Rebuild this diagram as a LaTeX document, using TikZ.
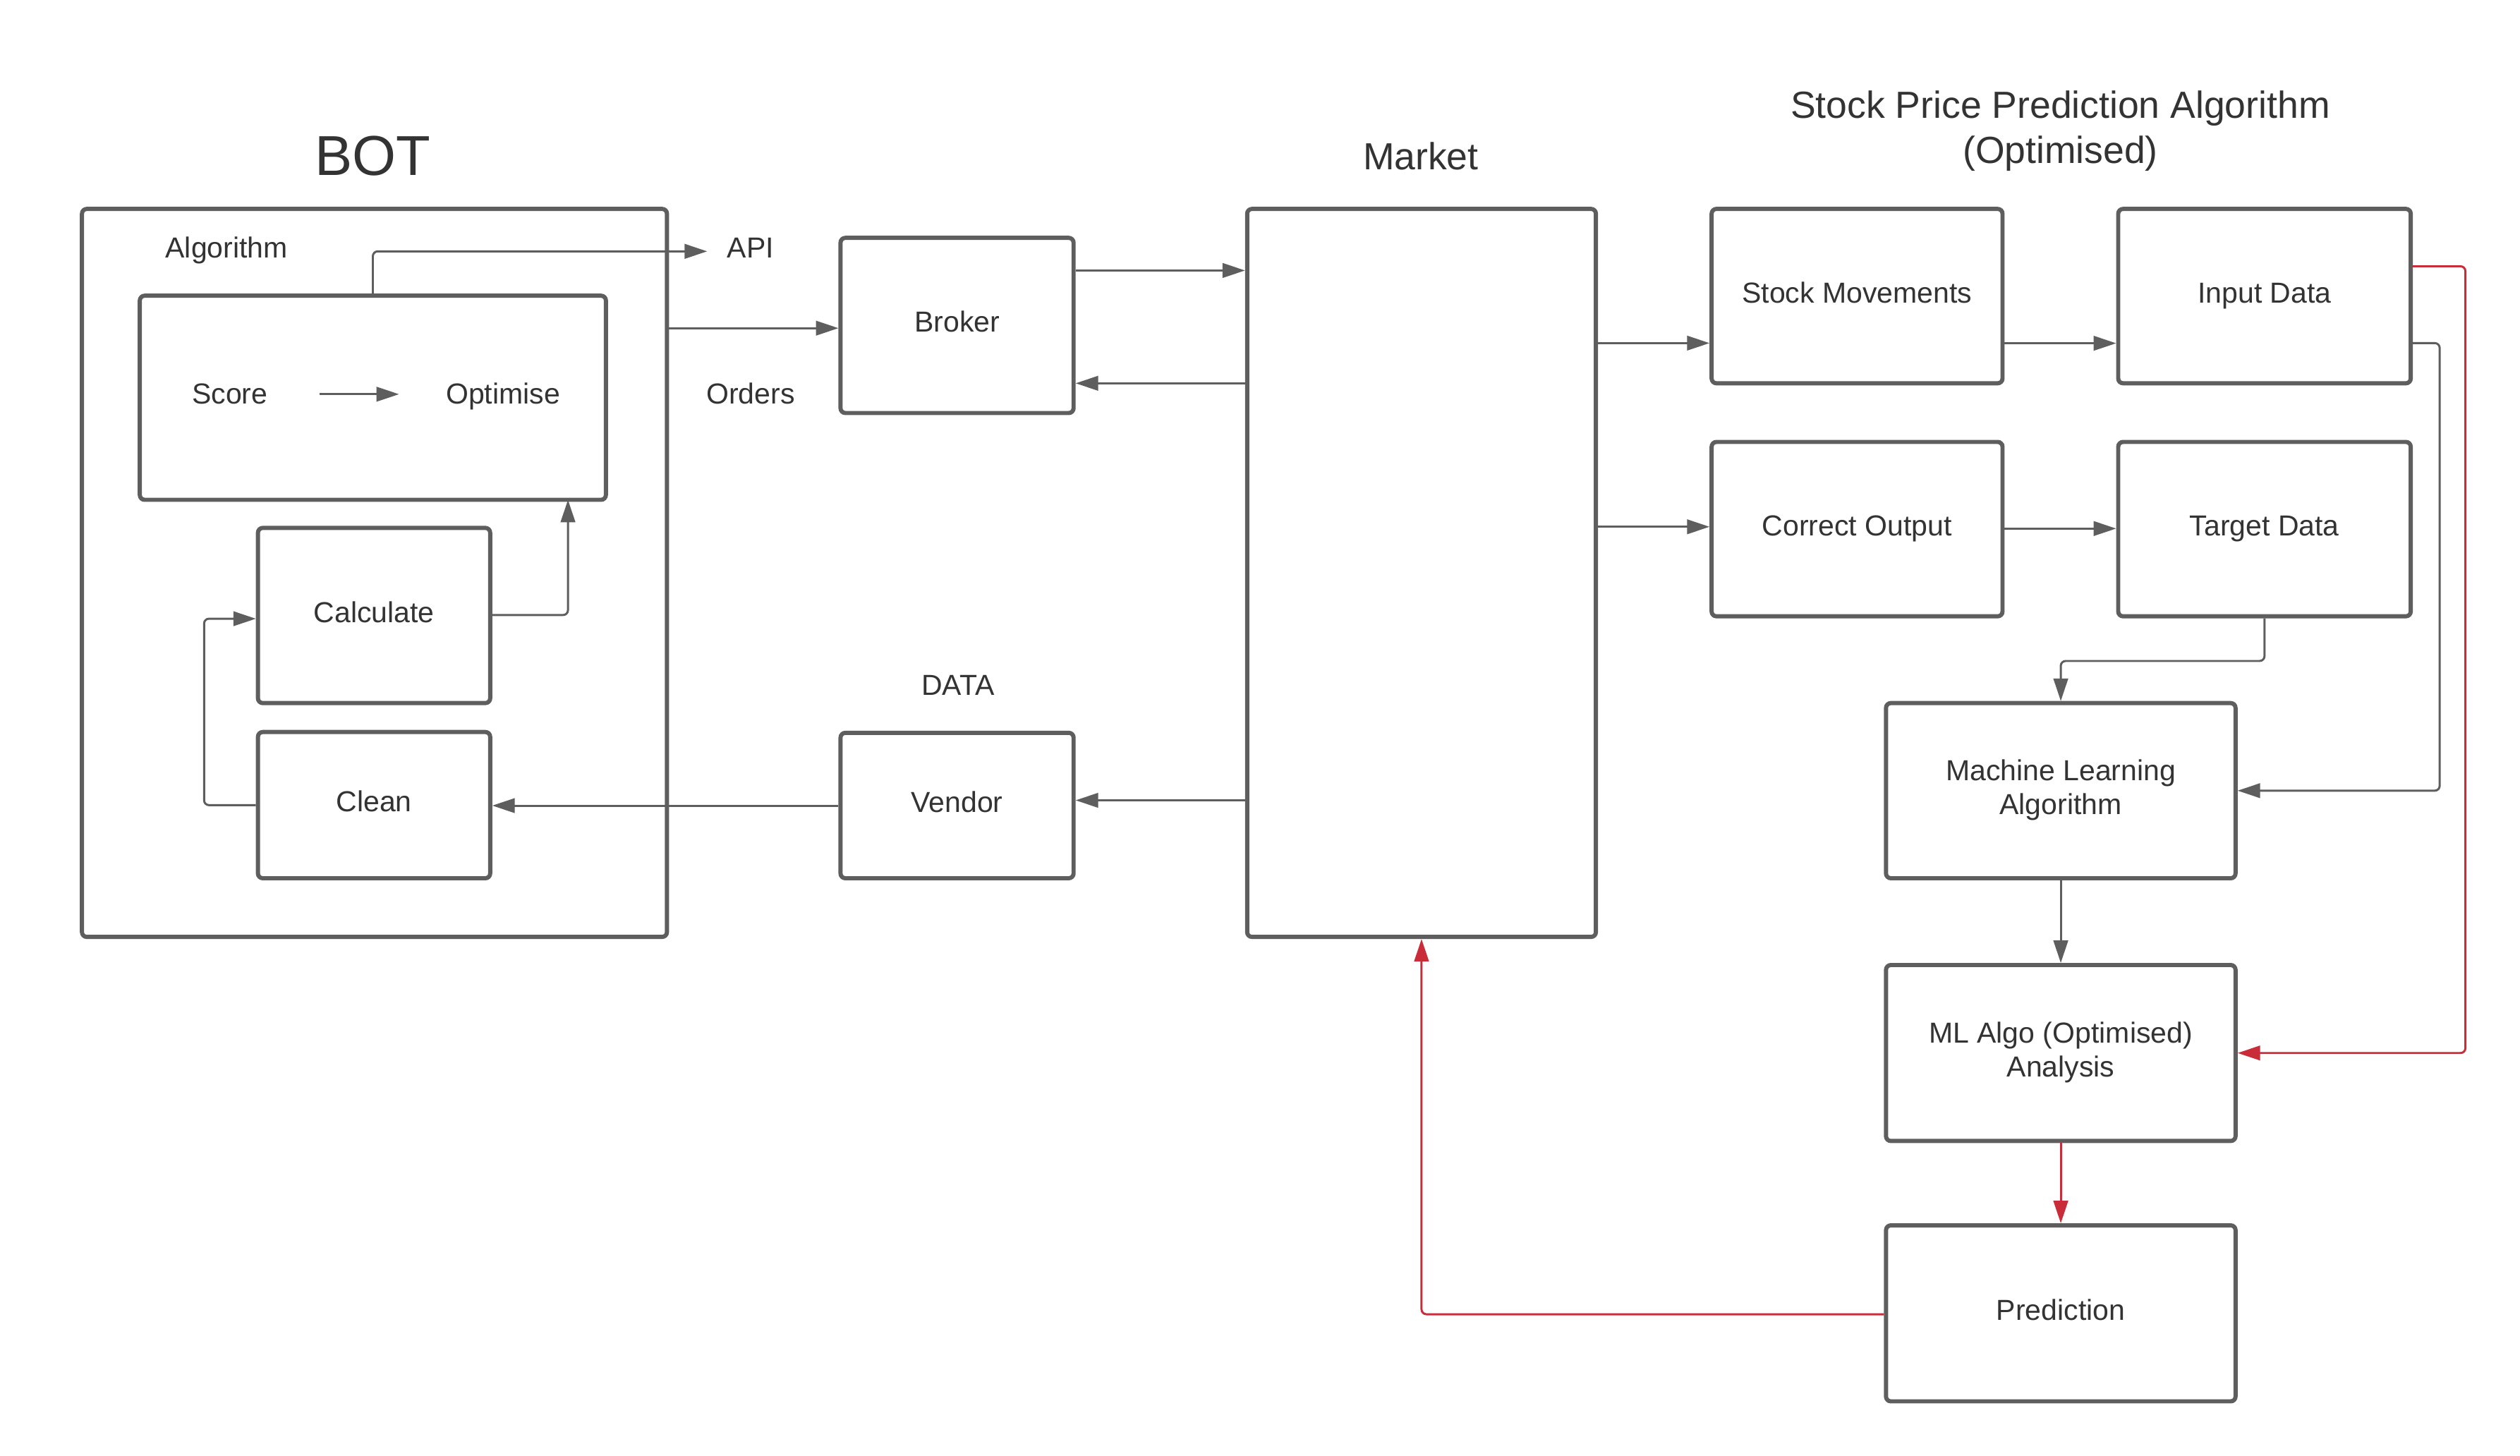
\documentclass[tikz,border=0pt]{standalone}
\usepackage{fontspec}
\setmainfont{Liberation Sans}
\usetikzlibrary{arrows.meta}
\definecolor{linegray}{HTML}{5E5E5E}
\definecolor{txt}{HTML}{333333}
\definecolor{lred}{HTML}{C92D39}
\tikzset{
  box/.style={draw=linegray, line width=2.6pt, rounded corners=3pt, fill=white,
    inner sep=0pt, align=center, text=txt, font=\fontsize{18}{21}\selectfont},
  conn/.style={draw=linegray, line width=1.3pt, rounded corners=3pt,
    -{Triangle[length=14pt,width=9pt]}},
  redconn/.style={conn, draw=lred},
  lbl/.style={text=txt, font=\fontsize{18}{21}\selectfont, inner sep=0pt, anchor=base},
  bigtitle/.style={text=txt, font=\fontsize{23.5}{28}\selectfont, inner sep=0pt, align=center},
}
\begin{document}
\begin{tikzpicture}[x=1pt, y=-1pt]
\useasboundingbox[fill=white] (0,0) rectangle (1568,906);

% ---------- titles and labels ----------
\node[lbl, font=\fontsize{35}{40}\selectfont] (bottitle) at (232,109) {BOT};
\node[bigtitle] (sptitle) at (1282,81.8) {\strut Stock Price Prediction Algorithm\\\strut(Optimised)};
\node[bigtitle, anchor=base] (markettitle) at (884,105.4) {Market};
\node[lbl] (algolbl) at (141,160.5) {Algorithm};
\node[lbl] (apilbl) at (467,160.5) {API};
\node[lbl] (orderslbl) at (467,251.5) {Orders};
\node[lbl] (datalbl) at (596,432.5) {DATA};

% ---------- BOT ----------
\node[box, minimum width=364pt, minimum height=453pt, fill=none] (bot) at (233,356.5) {};
\node[box, minimum width=290pt, minimum height=127pt] (algbox) at (232,247.5) {};
\node[lbl] (score) at (143,251.5) {Score};
\node[lbl] (optim) at (313,251.5) {Optimise};
\node[box, minimum width=144.5pt, minimum height=109pt] (calc) at (232.75,383) {\strut Calculate};
\node[box, minimum width=144.5pt, minimum height=91pt] (clean) at (232.75,501) {\strut Clean};

% ---------- middle ----------
\node[box, minimum width=145pt, minimum height=109pt] (broker) at (595.5,202.5) {\strut Broker};
\node[box, minimum width=145pt, minimum height=90.5pt] (vendor) at (595.5,501.25) {\strut Vendor};
\node[box, minimum width=217pt, minimum height=453pt] (market) at (884.5,356.5) {};

% ---------- right ----------
\node[box, minimum width=181pt, minimum height=108.5pt] (sm) at (1155.5,184.25) {\strut Stock Movements};
\node[box, minimum width=182pt, minimum height=108.5pt] (input) at (1409,184.25) {\strut Input Data};
\node[box, minimum width=181pt, minimum height=108.5pt] (co) at (1155.5,329.25) {\strut Correct Output};
\node[box, minimum width=182pt, minimum height=108.5pt] (target) at (1409,329.25) {\strut Target Data};
\node[box, minimum width=217.5pt, minimum height=109pt] (mla) at (1282.25,492) {\strut Machine Learning\\\strut Algorithm};
\node[box, minimum width=217.5pt, minimum height=109.5pt] (mlopt) at (1282.25,655.25) {\strut ML Algo (Optimised)\\\strut Analysis};
\node[box, minimum width=217.5pt, minimum height=109.5pt] (pred) at (1282.25,817.25) {\strut Prediction};

% ---------- helper coordinates ----------
\coordinate (apiend) at (440,156.4);
\coordinate (calcin) at (353.4,311);
\coordinate (loopx) at (127,501);
\coordinate (inx) at (1518,213.5);
\coordinate (redx) at (1534,165.7);

% ---------- connectors ----------
\draw[conn, shorten <=32pt, shorten >=29pt] (score.east) -- (optim.west |- score.east);
\draw[conn] (algbox.north) |- (apiend);
\draw[conn] (bot.east |- 0,204.2) -- (broker.west |- 0,204.2);
\draw[conn] (calc.east |- 0,382.7) -| (calcin);
\draw[conn] (clean.west) -- (loopx) |- (calc.west |- 0,385);
\draw[conn] (vendor.west |- 0,501.3) -- (clean.east |- 0,501.3);
\draw[conn] (broker.east |- 0,168.3) -- (market.west |- 0,168.3);
\draw[conn] (market.west |- 0,238.5) -- (broker.east |- 0,238.5);
\draw[conn] (market.west |- 0,498) -- (vendor.east |- 0,498);
\draw[conn] (market.east |- 0,213.5) -- (sm.west |- 0,213.5);
\draw[conn] (market.east |- 0,327.8) -- (co.west |- 0,327.8);
\draw[conn] (sm.east |- 0,213.6) -- (input.west |- 0,213.6);
\draw[conn] (co.east |- 0,328.9) -- (target.west |- 0,328.9);
\draw[conn] (target.south) -- ++(0,26.5) -| (mla.north);
\draw[conn] (input.east |- inx) -- (inx) |- (mla.east);
\draw[conn] (mla.south) -- (mlopt.north);
\draw[redconn] (input.east |- redx) -- (redx) |- (mlopt.east);
\draw[redconn] (mlopt.south) -- (pred.north);
\draw[redconn] (pred.west |- 0,817.8) -| (market.south);
\end{tikzpicture}
\end{document}
